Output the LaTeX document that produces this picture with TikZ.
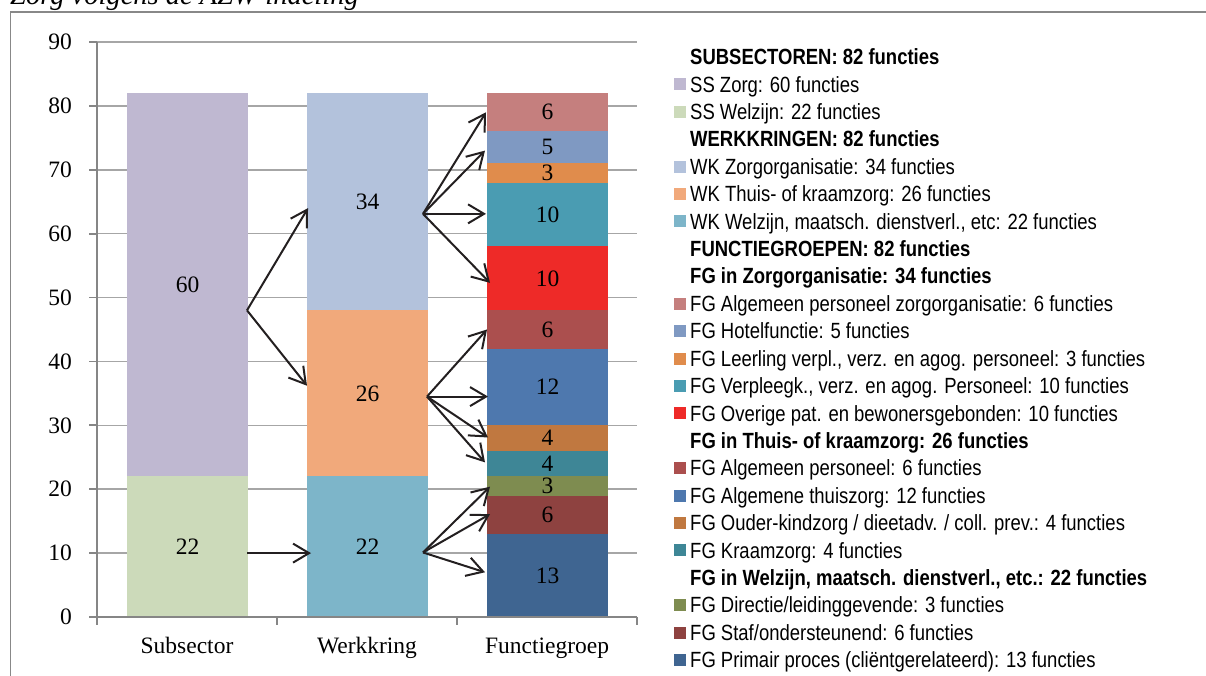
\documentclass[tikz,border=0pt]{standalone}
\usepackage{fontspec}
\setmainfont{Liberation Serif}
\newfontfamily\legfont[FakeStretch=0.84]{Liberation Sans}
\usetikzlibrary{arrows.meta}
\definecolor{cSSz}{RGB}{191,184,209}
\definecolor{cSSw}{RGB}{204,218,186}
\definecolor{cWKz}{RGB}{179,194,220}
\definecolor{cWKt}{RGB}{241,169,123}
\definecolor{cWKw}{RGB}{125,181,201}
\definecolor{cF1}{RGB}{197,127,126}
\definecolor{cF2}{RGB}{127,153,194}
\definecolor{cF3}{RGB}{224,140,76}
\definecolor{cF4}{RGB}{74,156,178}
\definecolor{cF5}{RGB}{238,42,40}
\definecolor{cF6}{RGB}{171,79,78}
\definecolor{cF7}{RGB}{78,120,174}
\definecolor{cF8}{RGB}{192,120,64}
\definecolor{cF9}{RGB}{62,134,150}
\definecolor{cF10}{RGB}{126,140,80}
\definecolor{cF11}{RGB}{142,66,64}
\definecolor{cF12}{RGB}{63,101,145}
\definecolor{gridc}{RGB}{166,166,166}
\definecolor{axisc}{RGB}{134,134,134}
\definecolor{framec}{RGB}{136,136,136}
\definecolor{arrc}{RGB}{35,31,32}
\tikzset{
  barlab/.style={inner sep=0pt, font=\fontsize{23.5}{28}\selectfont},
  ticklab/.style={inner sep=0pt, anchor=east, font=\fontsize{23.5}{28}\selectfont},
  catlab/.style={inner sep=0pt, anchor=base, font=\fontsize{23.5}{28}\selectfont},
  legtext/.style={inner sep=0pt, anchor=base west, font=\legfont\fontsize{22}{26}\selectfont},
  leghead/.style={legtext, font=\legfont\bfseries\fontsize{22}{26}\selectfont},
  arr/.style={draw=arrc, line width=2pt, -{Straight Barb[length=16pt,width=19pt,line width=2pt]}},
  gridline/.style={draw=gridc, line width=1.6pt},
  axisline/.style={draw=axisc, line width=1.8pt}
}
\newcommand\legitem[3]{%
  \fill[#2] (674,{-(57+27.41*(#1-1))-6}) rectangle ++(12,12);
  \node[legtext] (leg#1) at (690,{-(57+27.41*(#1-1))-7.7}) {#3};}
\newcommand\leghdr[2]{%
  \node[leghead] (leg#1) at (690,{-(57+27.41*(#1-1))-7.7}) {#2};}
\begin{document}
\begin{tikzpicture}[x=1pt,y=1pt]
\useasboundingbox (0,-676) rectangle (1206,0);
\clip (0,-676) rectangle (1206,0);
% title (cut off at the top edge, as in the reference) and frame
\node[inner sep=0pt, anchor=base west, font=\itshape\fontsize{28.5}{32}\selectfont] (title) at (10,-5) {Zorg volgens de AZW-indeling};
\draw[draw=framec, line width=1.8pt] (10.5,-680) -- (10.5,-12) -- (1210,-12);
% chart
\begin{scope}[y=6.389pt, yshift=-617pt]
  \foreach \v in {10,20,...,90} { \draw[gridline] (97,\v) -- (637,\v); }
  % Subsector
  \fill[cSSw] (127,0) rectangle (248,22);
  \fill[cSSz] (127,22) rectangle (248,82);
  % Werkkring
  \fill[cWKw] (307,0) rectangle (428,22);
  \fill[cWKt] (307,22) rectangle (428,48);
  \fill[cWKz] (307,48) rectangle (428,82);
  % Functiegroep
  \fill[cF12] (487,0) rectangle (608,13);
  \fill[cF11] (487,13) rectangle (608,19);
  \fill[cF10] (487,19) rectangle (608,22);
  \fill[cF9] (487,22) rectangle (608,26);
  \fill[cF8] (487,26) rectangle (608,30);
  \fill[cF7] (487,30) rectangle (608,42);
  \fill[cF6] (487,42) rectangle (608,48);
  \fill[cF5] (487,48) rectangle (608,58);
  \fill[cF4] (487,58) rectangle (608,68);
  \fill[cF3] (487,68) rectangle (608,71);
  \fill[cF2] (487,71) rectangle (608,76);
  \fill[cF1] (487,76) rectangle (608,82);
  % axes
  \draw[axisline] (97,90) -- (97,0) -- (637,0);
  \foreach \v in {0,10,...,90} {
    \draw[axisline] (89,\v) -- (97,\v);
    \node[ticklab] (tick\v) at (72,\v) {\v};
  }
  \foreach \x in {97,277,457,637} { \draw[axisline] (\x,0) -- ++(0,-8pt); }
  % bar labels
  \node[barlab] (bSSw) at (187.5,11) {22};
  \node[barlab] (bSSz) at (187.5,52) {60};
  \node[barlab] (bWKw) at (367.5,11) {22};
  \node[barlab] (bWKt) at (367.5,35) {26};
  \node[barlab] (bWKz) at (367.5,65) {34};
  \node[barlab] (bF12) at (547.5,6.5) {13};
  \node[barlab] (bF11) at (547.5,16) {6};
  \node[barlab] (bF10) at (547.5,20.5) {3};
  \node[barlab] (bF9) at (547.5,24) {4};
  \node[barlab] (bF8) at (547.5,28) {4};
  \node[barlab] (bF7) at (547.5,36) {12};
  \node[barlab] (bF6) at (547.5,45) {6};
  \node[barlab] (bF5) at (547.5,53) {10};
  \node[barlab] (bF4) at (547.5,63) {10};
  \node[barlab] (bF3) at (547.5,69.5) {3};
  \node[barlab] (bF2) at (547.5,73.5) {5};
  \node[barlab] (bF1) at (547.5,79) {6};
  % arrow coordinates
  \coordinate (s1) at (247,48);
  \coordinate (t1a) at (308,64);
  \coordinate (t1b) at (307,36.2);
  \coordinate (s2) at (247,10);
  \coordinate (t2) at (311,10);
  \coordinate (s3) at (423,63.1);
  \coordinate (t3a) at (486,79);
  \coordinate (t3b) at (485,73);
  \coordinate (t3c) at (486,63.1);
  \coordinate (t3d) at (490,52.3);
  \coordinate (s4) at (427,34.5);
  \coordinate (t4a) at (487,45);
  \coordinate (t4b) at (488,34.5);
  \coordinate (t4c) at (488,28.1);
  \coordinate (t4d) at (485,24.2);
  \coordinate (s5) at (423,10.1);
  \coordinate (t5a) at (490,20.4);
  \coordinate (t5b) at (490,16.1);
  \coordinate (t5c) at (485,7);
  \foreach \t in {t1a,t1b} { \draw[arr] (s1) -- (\t); }
  \draw[arr] (s2) -- (t2);
  \foreach \t in {t3a,t3b,t3c,t3d} { \draw[arr] (s3) -- (\t); }
  \foreach \t in {t4a,t4b,t4c,t4d} { \draw[arr] (s4) -- (\t); }
  \foreach \t in {t5a,t5b,t5c} { \draw[arr] (s5) -- (\t); }
\end{scope}
% category labels
\node[catlab] (cat1) at (187,-653) {Subsector};
\node[catlab] (cat2) at (367,-653) {Werkkring};
\node[catlab] (cat3) at (547,-653) {Functiegroep};
% legend
\leghdr{1}{SUBSECTOREN: 82 functies}
\legitem{2}{cSSz}{SS Zorg: 60 functies}
\legitem{3}{cSSw}{SS Welzijn: 22 functies}
\leghdr{4}{WERKKRINGEN: 82 functies}
\legitem{5}{cWKz}{WK Zorgorganisatie: 34 functies}
\legitem{6}{cWKt}{WK Thuis- of kraamzorg: 26 functies}
\legitem{7}{cWKw}{WK Welzijn, maatsch. dienstverl., etc: 22 functies}
\leghdr{8}{FUNCTIEGROEPEN: 82 functies}
\leghdr{9}{FG in Zorgorganisatie: 34 functies}
\legitem{10}{cF1}{FG Algemeen personeel zorgorganisatie: 6 functies}
\legitem{11}{cF2}{FG Hotelfunctie: 5 functies}
\legitem{12}{cF3}{FG Leerling verpl., verz. en agog. personeel: 3 functies}
\legitem{13}{cF4}{FG Verpleegk., verz. en agog. Personeel: 10 functies}
\legitem{14}{cF5}{FG Overige pat. en bewonersgebonden: 10 functies}
\leghdr{15}{FG in Thuis- of kraamzorg: 26 functies}
\legitem{16}{cF6}{FG Algemeen personeel: 6 functies}
\legitem{17}{cF7}{FG Algemene thuiszorg: 12 functies}
\legitem{18}{cF8}{FG Ouder-kindzorg / dieetadv. / coll. prev.: 4 functies}
\legitem{19}{cF9}{FG Kraamzorg: 4 functies}
\leghdr{20}{FG in Welzijn, maatsch. dienstverl., etc.: 22 functies}
\legitem{21}{cF10}{FG Directie/leidinggevende: 3 functies}
\legitem{22}{cF11}{FG Staf/ondersteunend: 6 functies}
\legitem{23}{cF12}{FG Primair proces (cliëntgerelateerd): 13 functies}
\end{tikzpicture}
\end{document}
